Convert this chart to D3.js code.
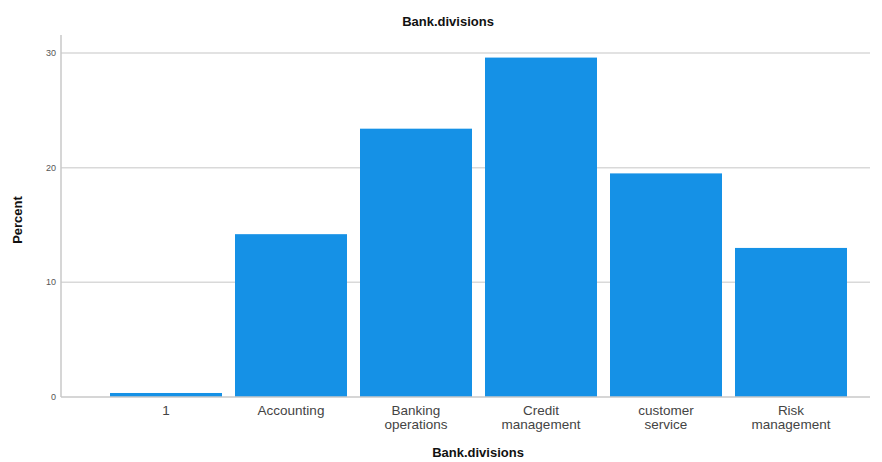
<!DOCTYPE html>
<html>
<head>
<meta charset="utf-8">
<script src="https://cdn.jsdelivr.net/npm/d3@7"></script>
<style>
  body { margin: 0; background: #fff; }
  svg { font-family: "Liberation Sans", Arial, sans-serif; }
  .axes-labels { font-weight: bold; fill: #111; }
</style>
</head>
<body>
<svg id="chart" width="882" height="462"></svg>
<script>
// Category labels (multi-line where the original wraps)
var categories = ["1", "Accounting", "Banking operations", "Credit management", "customer service", "Risk management"];
var labelLines = [["1"], ["Accounting"], ["Banking", "operations"], ["Credit", "management"], ["customer", "service"], ["Risk", "management"]];
var percents = [0.35, 14.2, 23.4, 29.6, 19.5, 13.0];
var yTicks = [0, 10, 20, 30];

var svg = d3.select("#chart");
var left = 61, right = 870, bottom = 397;

var x = d3.scaleBand()
  .domain(categories)
  .range([103.5, 853.5])
  .paddingInner(0.104)
  .paddingOuter(0.052);

var y = d3.scaleLinear()
  .domain([0, 30])
  .range([bottom, 53]);

// Gridlines
svg.append("g")
  .selectAll("line")
  .data(yTicks.slice(1))
  .join("line")
  .attr("x1", left)
  .attr("x2", right)
  .attr("y1", function(d) { return y(d); })
  .attr("y2", function(d) { return y(d); })
  .attr("stroke", "#d9d9d9")
  .attr("stroke-width", 1.5);

// Bars
svg.append("g")
  .selectAll("rect")
  .data(percents)
  .join("rect")
  .attr("x", function(d, i) { return x(categories[i]); })
  .attr("width", x.bandwidth())
  .attr("y", function(d) { return y(d); })
  .attr("height", function(d) { return bottom - y(d); })
  .attr("fill", "#1591e6");

// Axis lines
svg.append("line")
  .attr("x1", left).attr("x2", left)
  .attr("y1", 35).attr("y2", bottom)
  .attr("stroke", "#c8c8c8").attr("stroke-width", 1.5);
svg.append("line")
  .attr("x1", left).attr("x2", right)
  .attr("y1", bottom).attr("y2", bottom)
  .attr("stroke", "#c8c8c8").attr("stroke-width", 1.5);

// Y tick labels
svg.append("g")
  .selectAll("text")
  .data(yTicks)
  .join("text")
  .attr("x", left - 5)
  .attr("y", function(d) { return y(d); })
  .attr("dy", "0.35em")
  .style("text-anchor", "end")
  .style("font-size", "9px")
  .style("fill", "#555")
  .text(function(d) { return d; });

// X category labels
var xl = svg.append("g")
  .selectAll("text")
  .data(categories)
  .join("text")
  .attr("x", function(d) { return x(d) + x.bandwidth() / 2; })
  .attr("y", 415)
  .style("text-anchor", "middle")
  .style("font-size", "13.5px")
  .style("fill", "#444");
xl.selectAll("tspan")
  .data(function(d, i) { return labelLines[i]; })
  .join("tspan")
  .attr("x", function() { return this.parentNode.getAttribute("x"); })
  .attr("dy", function(d, i) { return i === 0 ? 0 : "1.05em"; })
  .text(function(d) { return d; });

// Titles
svg.append("text")
  .attr("x", 448).attr("y", 26)
  .style("text-anchor", "middle")
  .style("font-size", "13px")
  .text("Bank.divisions")
  .classed("axes-labels", true);

svg.append("text")
  .attr("x", 478).attr("y", 457)
  .style("text-anchor", "middle")
  .style("font-size", "13px")
  .text("Bank.divisions")
  .classed("axes-labels", true);

svg.append("text")
  .attr("transform", "translate(22," + 220 + ") rotate(-90)")
  .style("text-anchor", "middle")
  .style("font-size", "13px")
  .text("Percent")
  .classed("axes-labels", true);
</script>
</body>
</html>
